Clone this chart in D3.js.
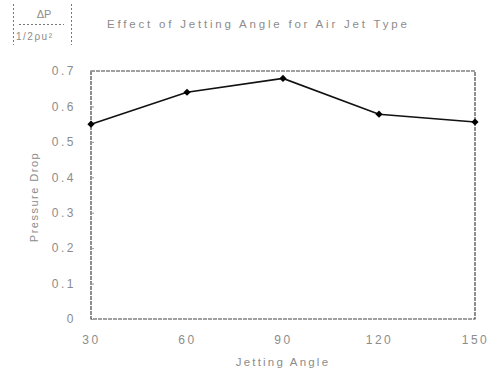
<!DOCTYPE html>
<html><head><meta charset="utf-8">
<script src="https://cdn.jsdelivr.net/npm/d3@7"></script>
<style>body{margin:0;background:#fff}text{font-family:"Liberation Sans",Arial,sans-serif}</style>
</head><body>
<svg id="c" width="498" height="373"></svg>
<script>
const angles = [30, 60, 90, 120, 150];
const pressureDrop = [0.55, 0.64, 0.679, 0.578, 0.556];
const yTicks = [0, 0.1, 0.2, 0.3, 0.4, 0.5, 0.6, 0.7];
const xTicks = [30, 60, 90, 120, 150];
const titleText = "Effect of Jetting Angle for Air Jet Type";
const xTitle = "Jetting Angle";
const yTitle = "Pressure Drop";

const svg = d3.select("#c");
const m = {l: 91, r: 475, t: 71, b: 319};
const x = d3.scaleLinear().domain([30, 150]).range([m.l, m.r]);
const y = d3.scaleLinear().domain([0, 0.7]).range([m.b, m.t]);
const grey = "#8c8c8c";

// formula box
const fb = svg.append("g").attr("stroke", "#777").attr("stroke-dasharray", "2,2").attr("stroke-width", 1);
fb.append("line").attr("x1", 13.5).attr("x2", 13.5).attr("y1", 4).attr("y2", 45);
fb.append("line").attr("x1", 71.5).attr("x2", 71.5).attr("y1", 4).attr("y2", 45);
fb.append("line").attr("x1", 19).attr("x2", 64).attr("y1", 24.5).attr("y2", 24.5);
svg.append("text").attr("x", 44).attr("y", 18).attr("text-anchor", "middle").attr("font-size", 11).attr("fill", grey).text("ΔP");
svg.append("text").attr("x", 16).attr("y", 40).attr("font-size", 10).attr("fill", grey).attr("letter-spacing", 1.5).text("1/2ρu²");

// title
svg.append("text").attr("x", 107).attr("y", 28).attr("font-size", 11.5).attr("letter-spacing", 2.8).attr("fill", grey).text(titleText);

// frame
svg.append("rect").attr("x", m.l).attr("y", m.t).attr("width", m.r - m.l).attr("height", m.b - m.t)
  .attr("fill", "none").attr("stroke", "#444").attr("stroke-width", 1.2).attr("stroke-dasharray", "4,1");

// y axis
const ya = svg.append("g").attr("transform", `translate(${m.l},0)`)
  .call(d3.axisRight(y).tickValues(yTicks).tickSize(3).tickFormat(d => d === 0 ? "0" : d3.format(".1f")(d)));
ya.select(".domain").remove();
ya.selectAll("line").attr("stroke", "#999");
ya.selectAll("text").attr("x", -15).attr("text-anchor", "end").attr("font-size", 12).attr("letter-spacing", 2.5).attr("fill", grey);

// x axis
const xa = svg.append("g").attr("transform", `translate(0,${m.b})`)
  .call(d3.axisBottom(x).tickValues(xTicks).tickSize(0).tickFormat(d3.format("d")));
xa.select(".domain").remove();
xa.selectAll("text").attr("y", 16).attr("font-size", 12).attr("letter-spacing", 2.5).attr("fill", grey);

// axis titles
svg.append("text").attr("x", 283).attr("y", 366).attr("text-anchor", "middle").attr("font-size", 11.5).attr("letter-spacing", 2.2).attr("fill", grey).text(xTitle);
svg.append("text").attr("transform", "translate(38,197) rotate(-90)").attr("text-anchor", "middle").attr("font-size", 11).attr("letter-spacing", 1.5).attr("fill", grey).text(yTitle);

// line
const pts = angles.map((a, i) => [a, pressureDrop[i]]);
svg.append("path").datum(pts).attr("fill", "none").attr("stroke", "#111").attr("stroke-width", 1.6)
  .attr("d", d3.line().x(d => x(d[0])).y(d => y(d[1])));
svg.selectAll("path.mk").data(pts).enter().append("path").attr("class", "mk")
  .attr("transform", d => `translate(${x(d[0])},${y(d[1])}) rotate(45)`)
  .attr("d", d3.symbol(d3.symbolSquare, 26)).attr("fill", "#000");
</script>
</body></html>
